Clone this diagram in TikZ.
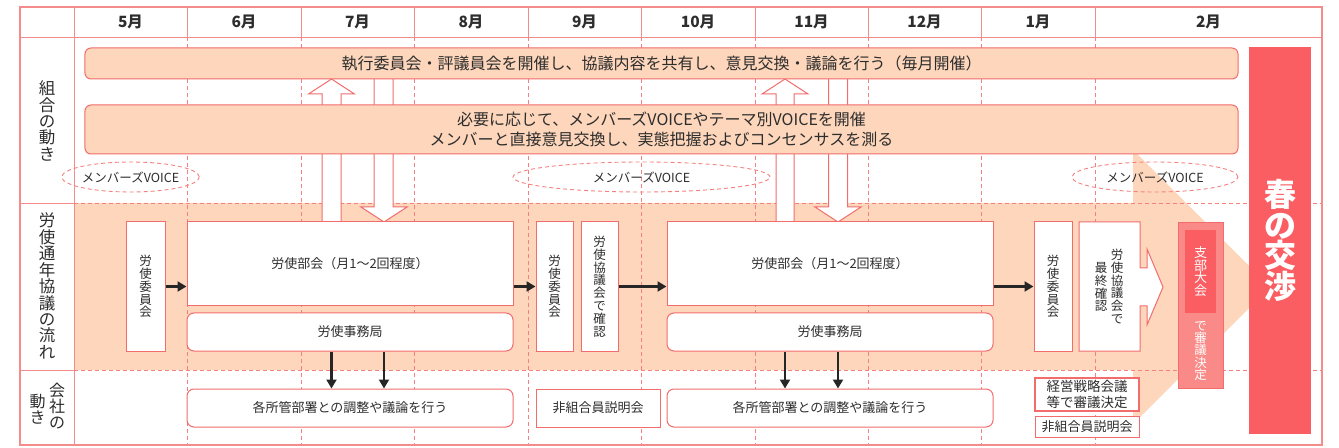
\documentclass[tikz,border=0pt]{standalone}
\usepackage{fontspec}
\setmainfont{Noto Sans CJK JP}
\usetikzlibrary{arrows.meta,shapes.geometric}
\definecolor{peach}{RGB}{253,214,187}
\definecolor{strokeC}{RGB}{242,108,108}
\definecolor{gridC}{RGB}{245,128,128}
\definecolor{frameC}{RGB}{245,140,140}
\definecolor{redC}{RGB}{250,94,98}
\definecolor{lredC}{RGB}{249,138,135}
\definecolor{txt}{RGB}{45,45,45}
\newcommand{\jfs}[2]{\fontsize{#1bp}{#2bp}\selectfont\lineskiplimit=-50bp\relax}
\begin{document}
\begin{tikzpicture}[x=1bp,y=-1bp,
  every node/.style={text=txt, inner sep=0pt, align=center},
  frame/.style={draw=frameC, line width=1.6bp},
  gsolid/.style={draw=frameC, line width=0.9bp},
  gdash/.style={draw=gridC, line width=0.9bp, dash pattern=on 4bp off 3bp},
  pbox/.style={draw=strokeC, fill=peach, line width=1bp, rounded corners=6bp},
  wbox/.style={draw=strokeC, fill=white, line width=1bp},
  rbox/.style={wbox, rounded corners=7bp},
  blk/.style={draw=black!85, line width=2.2bp, -{Triangle[length=9bp,width=10bp]}},
  hollow/.style={draw=strokeC, fill=white, line width=1bp},
  voice/.style={ellipse, draw=gridC, dash pattern=on 4bp off 3bp, line width=0.9bp, font=\jfs{12.5}{14}},
  month/.style={font=\jfs{15.5}{17}\bfseries},
  vt/.style={font=\jfs{12.5}{12.8}},
  st/.style={font=\jfs{13}{15}},
]
\useasboundingbox (0,0) rectangle (1339,448);
% peach flow band with big arrow
\fill[peach] (74,203) -- (1133,203) -- (1133,150) -- (1270,287) -- (1133,424) -- (1133,370) -- (74,370) -- cycle;
% grid
\foreach \x in {187,301,414,528,641,755,868,981,1095}{
  \draw[gsolid] (\x,7) -- (\x,37);
  \draw[gdash] (\x,37) -- (\x,445);
}
\draw[gsolid] (20,37) -- (1322,37);
\draw[gsolid] (74,7) -- (74,445);
\draw[gsolid] (20,203) -- (74,203);
\draw[gsolid] (20,370) -- (74,370);
\draw[gdash] (74,203) -- (1322,203);
\draw[gdash] (74,370) -- (1322,370);
\draw[frame] (20,7) rectangle (1322,445);
% month labels
\node[month] (m5) at (130.5,22) {5月};
\node[month] (m6) at (244,22) {6月};
\node[month] (m7) at (357.5,22) {7月};
\node[month] (m8) at (471,22) {8月};
\node[month] (m9) at (584.5,22) {9月};
\node[month] (m10) at (698,22) {10月};
\node[month] (m11) at (811.5,22) {11月};
\node[month] (m12) at (924.5,22) {12月};
\node[month] (m1) at (1038,22) {1月};
\node[month] (m2) at (1208.5,22) {2月};
% row labels
\node[font=\jfs{16.5}{16.4}] (r1) at (47,121) {組\\合\\の\\動\\き};
\node[font=\jfs{16.5}{16.4}] (r2) at (47,286) {労\\使\\通\\年\\協\\議\\の\\流\\れ};
\node[font=\jfs{16}{16}] (r3a) at (57,406) {会\\社\\の};
\node[font=\jfs{16}{16}] (r3b) at (37.5,409) {動\\き};
% hollow up/down arrows
\draw[hollow] (322,222) -- (322,94) -- (308.5,94) -- (331.5,79) -- (354.5,94) -- (341,94) -- (341,222) -- cycle;
\draw[hollow] (374,78) -- (374,207) -- (361,207) -- (384,222) -- (407,207) -- (393,207) -- (393,78) -- cycle;
\draw[hollow] (776,222) -- (776,94) -- (762,94) -- (785,79) -- (808,94) -- (794,94) -- (794,222) -- cycle;
\draw[hollow] (828.5,78) -- (828.5,207) -- (815,207) -- (838,222) -- (861,207) -- (847.5,207) -- (847.5,78) -- cycle;
% union boxes
\node[pbox, minimum width=1153bp, minimum height=31bp, font=\jfs{16}{19}] (exec) at (661.5,63.5)
  {執行委員会・評議員会を開催し、協議内容を共有し、意見交換・議論を行う（毎月開催）};
\node[pbox, minimum width=1153bp, minimum height=49bp, font=\jfs{16}{19.5}] (voicebox) at (661.5,129.5)
  {必要に応じて、メンバーズVOICEやテーマ別VOICEを開催\\メンバーと直接意見交換し、実態把握およびコンセンサスを測る};
% voice ellipses
\node[voice, minimum width=129bp, minimum height=30bp] (v1) at (130.5,177) {メンバーズVOICE};
\node[voice, minimum width=257bp, minimum height=30bp] (v2) at (641.5,177) {メンバーズVOICE};
\node[voice, minimum width=166bp, minimum height=30bp] (v3) at (1155,177) {メンバーズVOICE};
% flow boxes
\node[wbox, vt, minimum width=39bp, minimum height=129bp] (iin1) at (145.5,286.5) {労\\使\\委\\員\\会};
\node[wbox, st, minimum width=326bp, minimum height=83bp] (bukai1) at (350,263.5) {労使部会（月1〜2回程度）};
\node[rbox, st, minimum width=326bp, minimum height=38bp] (jimu1) at (350,332) {労使事務局};
\node[rbox, st, minimum width=326bp, minimum height=38bp] (kaku1) at (350,408) {各所管部署との調整や議論を行う};
\node[wbox, vt, minimum width=37bp, minimum height=129bp] (iin2) at (554.5,286.5) {労\\使\\委\\員\\会};
\node[wbox, vt, minimum width=37bp, minimum height=129bp] (kakunin) at (599.5,286.5) {労\\使\\協\\議\\会\\で\\確\\認};
\node[wbox, st, minimum width=124bp, minimum height=38bp] (hikumi1) at (598,408) {非組合員説明会};
\node[wbox, st, minimum width=326bp, minimum height=83bp] (bukai2) at (830,263.5) {労使部会（月1〜2回程度）};
\node[rbox, st, minimum width=326bp, minimum height=38bp] (jimu2) at (830,332) {労使事務局};
\node[rbox, st, minimum width=326bp, minimum height=38bp] (kaku2) at (830,408) {各所管部署との調整や議論を行う};
\node[wbox, vt, minimum width=38bp, minimum height=129bp] (iin3) at (1053,286.5) {労\\使\\委\\員\\会};
% final confirmation box with arrow
\draw[hollow] (1079,222) -- (1140,222) -- (1140,268) -- (1147,268) -- (1147,249) -- (1163,287) -- (1147,325) -- (1147,306) -- (1140,306) -- (1140,351) -- (1079,351) -- cycle;
\node[vt] (saishuA) at (1117,286.5) {労\\使\\協\\議\\会\\で};
\node[vt] (saishuB) at (1101,287) {最\\終\\確\\認};
% branch assembly
\node[draw=strokeC, fill=lredC, line width=1bp, minimum width=45bp, minimum height=165bp] (shibu) at (1200.5,305.5) {};
\node[fill=redC, minimum width=31bp, minimum height=83bp, text=white, font=\jfs{13}{12.7}] (shibuin) at (1200.5,271.5) {支\\部\\大\\会};
\node[text=white, font=\jfs{12.5}{12.4}] (shingi) at (1200.5,351) {で\\審\\議\\決\\定};
% company boxes
\node[draw=strokeC, fill=white, line width=2bp, minimum width=104bp, minimum height=33bp, font=\jfs{13.5}{15.5}] (keiei) at (1087,394.5) {経営戦略会議\\等で審議決定};
\node[wbox, st, minimum width=104bp, minimum height=21bp] (hikumi2) at (1087,426.5) {非組合員説明会};
% spring negotiation
\node[fill=redC, minimum width=62bp, minimum height=387bp, text=white, font=\jfs{32}{30.7}\bfseries] (haru) at (1280,240.5) {春\\の\\交\\渉};
% black arrows
\draw[blk] (iin1.east) -- (iin1.east -| bukai1.west);
\draw[blk] (bukai1.east |- iin2.west) -- (iin2.west);
\draw[blk] (kakunin.east) -- (kakunin.east -| bukai2.west);
\draw[blk] (bukai2.east |- iin3.west) -- (iin3.west);
\coordinate (xa) at (331.5,0);
\coordinate (xb) at (384,0);
\coordinate (xc) at (785,0);
\coordinate (xd) at (838,0);
\draw[blk] (xa |- jimu1.south) -- (xa |- kaku1.north);
\draw[blk] (xb |- jimu1.south) -- (xb |- kaku1.north);
\draw[blk] (xc |- jimu2.south) -- (xc |- kaku2.north);
\draw[blk] (xd |- jimu2.south) -- (xd |- kaku2.north);
\end{tikzpicture}
\end{document}
